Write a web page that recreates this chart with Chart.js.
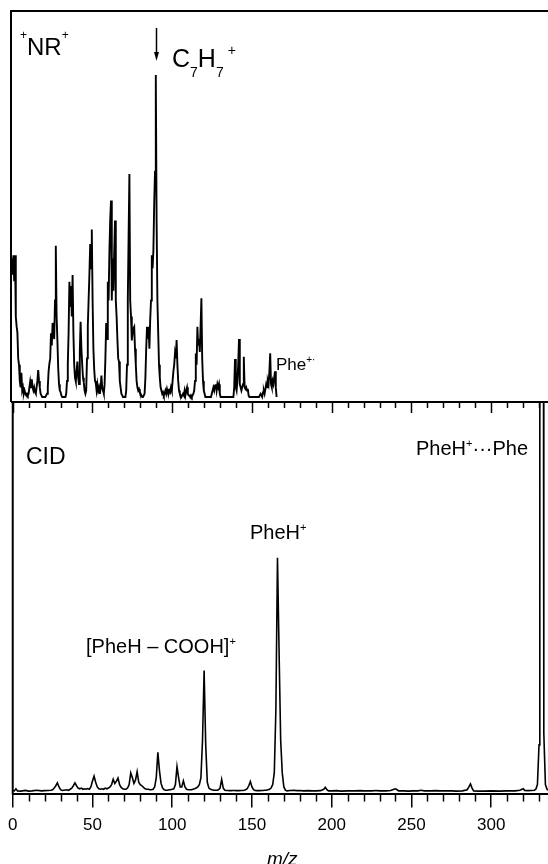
<!DOCTYPE html>
<html><head><meta charset="utf-8">
<script src="https://cdn.jsdelivr.net/npm/chart.js@4.4.1/dist/chart.umd.min.js"></script>
<style>
html,body{margin:0;padding:0;background:#fff;overflow:hidden;width:548px;height:864px;}
#wrap{position:relative;width:548px;height:864px;overflow:hidden;font-family:"Liberation Sans",Arial,Helvetica,sans-serif;color:#000;}
canvas{position:absolute;left:0;top:0;}
.lbl{position:absolute;white-space:nowrap;line-height:1;}
.sp{position:relative;}
.it{font-style:italic;}
</style></head><body>
<div id="wrap">
<canvas id="cBot" width="560" height="864"></canvas>
<canvas id="cTop" width="560" height="403"></canvas>
<div class="lbl" style="left:20px;top:35px;font-size:24px"><span class="sp" style="font-size:12px;top:-16px">+</span>NR<span class="sp" style="font-size:12px;top:-16px">+</span></div>
<div class="lbl" style="left:172px;top:46px;font-size:25px">C<span class="sp" style="font-size:14px;top:10px">7</span>H<span class="sp" style="font-size:14px;top:10px">7</span><span class="sp" style="font-size:14px;top:-12px;margin-left:4px">+</span></div>
<div class="lbl" style="left:276px;top:356px;font-size:17px">Phe<span class="sp" style="font-size:10px;top:-7px">+·</span></div>
<div class="lbl" style="left:26px;top:445px;font-size:23px">CID</div>
<div class="lbl" style="left:416px;top:438px;font-size:20px">PheH<span class="sp" style="font-size:11px;top:-8px">+</span>···Phe</div>
<div class="lbl" style="left:250px;top:522px;font-size:20px">PheH<span class="sp" style="font-size:11px;top:-8px">+</span></div>
<div class="lbl" style="left:86px;top:636px;font-size:20px">[PheH – COOH]<span class="sp" style="font-size:11px;top:-8px">+</span></div>
<div class="lbl it" style="left:267px;top:849px;font-size:19px">m/z</div>
</div>
<script>
// ---- data ----
const xTickValues = [0, 50, 100, 150, 200, 250, 300];
const xTickLabels = ['0', '50', '100', '150', '200', '250', '300'];
const xMinorValues = [10,20,30,40,60,70,80,90,110,120,130,140,160,170,180,190,210,220,230,240,260,270,280,290,310,320,330];

// +NR+ spectrum (m/z, relative intensity; C7H7+ = 100)
const topMz = [
0,0.5,1,1.5,2,2.5,3,3.5,4,4.5,5,5.5,6,6.5,7,7.5,8,8.5,9,9.5,
10,10.5,11,11.5,12,12.5,13,13.5,14,14.5,15,15.5,16,16.5,17,17.5,18,18.5,19,19.5,
20,20.5,21,21.5,22,22.5,23,23.5,24,24.5,25,25.5,26,26.5,27,27.5,28,28.5,29,29.5,
30,30.5,31,31.5,32,32.5,33,33.5,34,34.5,35,35.5,36,36.5,37,37.5,38,38.5,39,39.5,
40,40.5,41,41.5,42,42.5,43,43.5,44,44.5,45,45.5,46,46.5,47,47.5,48,48.5,49,49.5,
50,50.5,51,51.5,52,52.5,53,53.5,54,54.5,55,55.5,56,56.5,57,57.5,58,58.5,59,59.5,
60,60.5,61,61.5,62,62.5,63,63.5,64,64.5,65,65.5,66,66.5,67,67.5,68,68.5,69,69.5,
70,70.5,71,71.5,72,72.5,73,73.5,74,74.5,75,75.5,76,76.5,77,77.5,78,78.5,79,79.5,
80,80.5,81,81.5,82,82.5,83,83.5,84,84.5,85,85.5,86,86.5,87,87.5,88,88.5,89,89.5,
90,90.5,91,91.5,92,92.5,93,93.5,94,94.5,95,95.5,96,96.5,97,97.5,98,98.5,99,99.5,
100,100.5,101,101.5,102,102.5,103,103.5,104,104.5,105,105.5,106,106.5,107,107.5,108,108.5,109,109.5,
110,110.5,111,111.5,112,112.5,113,113.5,114,114.5,115,115.5,116,116.5,117,117.5,118,118.5,119,119.5,
120,120.5,121,121.5,122,123,124,125,125.5,126,126.5,127,127.5,128,128.5,129,129.5,
130,130.5,131,133,135,137,139,139.5,140,140.5,141,141.5,142,142.5,143,143.5,144,144.5,145,145.5,146,146.5,147,147.5,148,148.5,149,
151,153,155,155.5,156,156.5,157,157.5,158,158.5,159,159.5,160,160.5,161,161.5,162,162.5,163,163.5,164,164.5,165,165.5,166
];
const topInt = [
40,43,38,44,36,44,25,22,20,12,10,5,3,7.5,2,3,1,2,1,0.5,
1,0.5,1,3,4.8,3,5.5,3,2,3,1.5,1,3,5,8.4,5,3,1,0.5,0,
0,0,0,0,0.5,1,3,8,10.4,12,19.8,16,23,21,18,30,47,25,17.6,9,
4,2,1.5,0.5,0,0,0,0,0,1,5,10,20,35.8,28,34.5,25,37.9,20,10,
6,4.8,8,11,6,4,14,23.4,15,10,6,4.5,2,1,2,12,22,30,38,47.5,
40,52,30,15,8.6,5,4.3,2,4,2,3,1,2.5,6.7,3,2,1,4,12,23,
18,35.8,30,45,55,61,30,43,33,45,54.8,30,25,18,12,11,5,3,1,0.5,
0,0,0,0,2,10,30,50,69.3,30,25,17.6,20,21.3,21.8,15,10,5,3,2,
2.5,1.5,1,0.5,0,0,0,1,6,15,21.8,18,21.8,15,24,30,44,40,45.5,60,
70,100,55,30,20,10,6,3,2,1,1.5,0.5,1,2,1,2.5,1.5,1,2,1.5,
3,2,5,8,10,13.6,12,17.7,10,5,2,1,0.5,0,0.5,1,0.5,2,0.5,2,
3,1,0.5,0.5,0,0.5,0,0.5,1,2,5,13.5,10,21.8,16,18,14,22,30.7,12,
5,2,1,0,0,0,0,0,0,2,3,2,3.5,4,2,4,3,
4,1,0,0,0,0,0,3,11.8,3,2,5,10,18,4,3,2,3,4,12.5,3,2.5,3,2,2.5,0.5,0,
0,0,0,0,1,0.5,0,1.5,2,1,2.5,4,3,5,4,8,13.6,4,3,5,4,6,8,3,0
];

// CID spectrum (m/z, relative intensity; PheH+ = 100)
const botMz = [
0,1,2,3,5,8,10,12,15,18,20,22,24,25,26,27,28,29,30,31,32,34,35,36,37,38,39,40,41,42,
43,44,45,46,47,48,49,50,51,52,53,54,55,56,57,58,59,60,61,62,63,64,65,66,67,68,69,70,
71,72,73,74,75,76,77,78,79,80,81,82,83,84,85,86,87,88,89,90,91,92,93,94,95,96,97,98,
99,100,101,102,103,104,105,106,107,108,109,110,111,112,113,114,115,116,117,118,119,120,
121,122,123,124,125,126,127,128,129,130,131,132,133,134,135,136,137,138,139,140,141,142,
143,144,145,146,147,148,149,150,151,152,153,154,155,156,157,158,159,160,161,162,163,164,
165,166,167,168,169,170,171,172,174,176,178,180,182,185,188,190,193,195,196,197,198,200,
203,206,210,214,218,220,225,228,230,234,237,239,240,241,242,245,248,251,254,256,258,262,
265,268,272,275,278,282,285,286,287,288,289,292,296,300,305,310,315,318,320,321,323,325,
327,328,329,330,330.5,332.5,333,334,335,336
];
const botInt = [
0.5,0.3,1.2,0.3,0.2,0.5,0.2,0.3,0.6,0.3,0.4,0.5,0.6,0.8,1.5,2.5,3.7,2,0.8,0.5,0.6,0.8,0.5,1,1.5,2.5,3.7,2.5,1.5,1.2,
1.5,1,1.2,1,1.3,1,2,4.5,6.6,4,2,1.2,1,1.2,1,1.5,1.2,1.5,2,3,5.3,3.5,4.5,5.8,3,1.8,1.2,1,
1,1.5,3,8,6,3.5,5,8.5,4,3,2.5,1.8,1.2,1,1,0.8,0.8,1,2,6,16.8,9,3.5,1.5,0.8,0.6,0.6,0.8,
0.8,1,1.2,3,10.7,6,2,2,4.6,2,1,0.8,0.8,0.8,1,1.2,1.5,2,3,6,22,51.8,
20,4,1.5,1,0.8,0.6,0.6,0.6,0.8,1.5,5.2,1.5,0.6,0.5,0.5,0.4,0.4,0.5,0.5,0.4,0.4,0.4,
0.5,0.5,0.6,0.8,1.2,2.5,4.3,2,0.8,0.5,0.4,0.4,0.4,0.5,0.5,0.6,0.6,0.8,1,1.5,3,8,
35,100,60,22,8,2,0.6,0.3,0.5,0.6,0.4,0.5,0.3,0.4,0.3,0.3,0.4,1,1.8,0.8,0.3,0.3,
0.4,0.2,0.3,0.3,0.4,0.3,0.3,0.5,0.3,0.3,0.5,1,1.2,0.8,0.3,0.3,0.2,0.3,0.3,0.6,0.3,0.3,
0.4,0.3,0.3,0.3,0.2,0.3,0.8,2,3.3,1.5,0.3,0.2,0.2,0.3,0.2,0.3,0.3,0.6,1.2,0.5,0.4,0.5,
0.6,1,3,20,400,400,25,3,1,0.5
];

const pts = (xs, ys) => xs.map((x, i) => ({x: x, y: ys[i]}));

Chart.defaults.font.family = '"Liberation Sans", Arial, Helvetica, sans-serif';
Chart.defaults.color = '#000';

// frame + ticks plugin
const framePlugin = {
  id: 'frame',
  afterDraw(chart, args, opts) {
    const ctx = chart.ctx, a = chart.chartArea, xs = chart.scales.x;
    ctx.save();
    ctx.strokeStyle = '#000';
    ctx.lineWidth = 2;
    ctx.beginPath();
    ctx.moveTo(a.left, a.bottom + (opts.bottomLine ? 0 : 1));
    ctx.lineTo(a.left, a.top);
    ctx.lineTo(a.right + 2, a.top);
    if (opts.bottomLine) { ctx.moveTo(a.left, a.bottom); ctx.lineTo(a.right + 2, a.bottom); }
    ctx.stroke();
    if (opts.innerTopTicks) {
      ctx.lineWidth = 1.5;
      ctx.beginPath();
      xTickValues.concat(xMinorValues).forEach(v => {
        const px = Math.round(xs.getPixelForValue(v)) + 0.5;
        const len = xTickValues.includes(v) ? 11 : 6;
        ctx.moveTo(px, a.top); ctx.lineTo(px, a.top + len);
      });
      ctx.stroke();
    }
    if (opts.minorBottom) {
      ctx.lineWidth = 1.5;
      ctx.beginPath();
      xMinorValues.forEach(v => {
        const px = Math.round(xs.getPixelForValue(v)) + 0.5;
        ctx.moveTo(px, a.bottom); ctx.lineTo(px, a.bottom + 8);
      });
      ctx.stroke();
    }
    if (opts.arrowAt !== undefined) {
      const px = Math.round(xs.getPixelForValue(opts.arrowAt)) + 0.5;
      ctx.lineWidth = 1.5;
      ctx.beginPath(); ctx.moveTo(px, 28); ctx.lineTo(px, 54); ctx.stroke();
      ctx.fillStyle = '#000';
      ctx.beginPath(); ctx.moveTo(px - 2.5, 52); ctx.lineTo(px + 2.5, 52); ctx.lineTo(px, 61); ctx.closePath(); ctx.fill();
    }
    ctx.restore();
  }
};

const lineDs = (data, w) => ({
  data: data, borderColor: '#000', borderWidth: w, pointRadius: 0,
  tension: 0, fill: false, spanGaps: true
});

new Chart(document.getElementById('cTop'), {
  type: 'line',
  data: { datasets: [lineDs(pts(topMz, topInt), 1.9)] },
  options: {
    responsive: false, animation: false, devicePixelRatio: 1,
    layout: { autoPadding: false, padding: { left: 11, top: 11, right: 11.4, bottom: 1 } },
    plugins: { legend: { display: false }, tooltip: { enabled: false },
      frame: { bottomLine: true, arrowAt: 90.5 } },
    scales: {
      x: { type: 'linear', min: 0, max: 336, display: false },
      y: { type: 'linear', min: -1.55, max: 119.9, display: false }
    }
  },
  plugins: [framePlugin]
});

new Chart(document.getElementById('cBot'), {
  type: 'line',
  data: { datasets: [lineDs(pts(botMz, botInt), 1.6)] },
  options: {
    responsive: false, animation: false, devicePixelRatio: 1,
    layout: { autoPadding: false, padding: { left: 11, top: 402, right: 11.4, bottom: 20 } },
    plugins: { legend: { display: false }, tooltip: { enabled: false },
      frame: { innerTopTicks: true, minorBottom: true } },
    scales: {
      x: {
        type: 'linear', min: 0, max: 336,
        afterBuildTicks: s => { s.ticks = xTickValues.map(v => ({ value: v })); },
        ticks: { autoSkip: false, maxRotation: 0, padding: 8,
          font: { size: 17 }, color: '#000',
          callback: (v) => { const i = xTickValues.indexOf(v); return i >= 0 ? xTickLabels[i] : ''; } },
        grid: { drawOnChartArea: false, drawTicks: true, tickLength: 14, color: '#000', lineWidth: 1.5 },
        border: { display: true, color: '#000', width: 2 }
      },
      y: { type: 'linear', min: -0.855, max: 166.67, display: false }
    }
  },
  plugins: [framePlugin]
});
</script>
</body></html>
